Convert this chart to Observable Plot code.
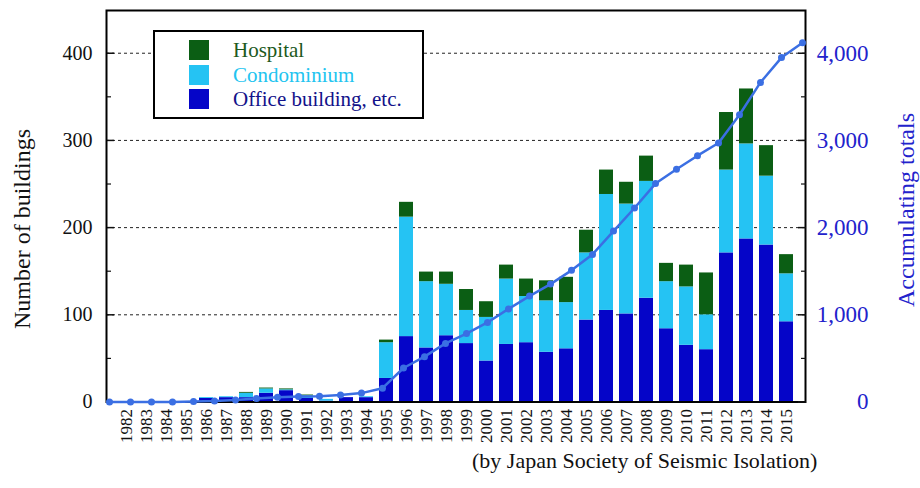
<!DOCTYPE html>
<html><head><meta charset="utf-8">
<script src="https://cdn.jsdelivr.net/npm/d3@7"></script>
<script src="https://cdn.jsdelivr.net/npm/@observablehq/plot@0.6"></script>
<style>
body{margin:0;background:#fff;}
#wrap{position:relative;width:920px;height:488px;overflow:hidden;font-family:"Liberation Serif","Times New Roman",serif;}
#wrap svg{position:absolute;left:0;top:0;}
.title{position:absolute;white-space:nowrap;transform:translate(-50%,-50%) rotate(-90deg);line-height:1;font-family:"Liberation Serif",serif;}
#legend{position:absolute;left:153px;top:30px;width:267px;height:85px;border:2px solid #000;background:#fff;}
.lg{position:absolute;left:34px;width:20px;height:20px;}
.lt{position:absolute;left:78px;font-size:21px;line-height:20px;white-space:nowrap;font-family:"Liberation Serif",serif;}
#caption{position:absolute;left:472px;top:450px;font-size:22px;line-height:1;white-space:nowrap;color:#111;font-family:"Liberation Serif",serif;}
</style></head><body><div id="wrap"></div>
<script>
const years = [1982,1983,1984,1985,1986,1987,1988,1989,1990,1991,1992,1993,1994,1995,1996,1997,1998,1999,2000,2001,2002,2003,2004,2005,2006,2007,2008,2009,2010,2011,2012,2013,2014,2015];
const office   = [0,0,0,0,4,5,5,10,13,4,1,5,5,27,75,62,76,67,47,66,68,57,61,94,105,101,119,84,65,60,171,187,180,92];
const condo    = [0,0,0,0,1,1,5,5,1,3,2,0,1,41,137,76,59,38,50,75,53,59,53,77,133,126,134,54,67,40,95,109,79,55];
const hospital = [0,0,0,0,0,0,1,1,1,1,0,0,0,3,17,11,14,24,18,16,20,23,29,26,28,25,29,21,25,48,66,63,35,22];
const accumulated = [0,0,0,0,6,12,24,40,55,63,66,80,102,158,390,520,672,785,912,1068,1215,1352,1510,1693,1960,2225,2505,2670,2825,2970,3295,3665,3950,4120];
const categories = ["Office building, etc.","Condominium","Hospital"];
const colors = ["#0505c8","#25c3f3","#0b5e14"];
const yTicks = [0,100,200,300,400];
const yMinor = [50,150,250,350];
const y2Ticks = [0,1000,2000,3000,4000];
const y2Minor = [500,1500,2500,3500];
const lineColor = "#3b6fe3";
const rightColor = "#2222cc";

const seriesVals = [office, condo, hospital];
const rows = categories.flatMap((c, k) => seriesVals[k].map((v, i) => ({year: years[i], category: c, value: v})));
const lineData = years.map((y, i) => ({year: y, total: accumulated[i]}));

const M = {marginLeft:106, marginRight:115, marginTop:10, marginBottom:86.5};

const p1 = Plot.plot({
  width:920, height:488, ...M,
  style:{fontFamily:"Liberation Serif", background:"transparent", color:"#111"},
  x:{type:"band", domain:years, paddingInner:0.32, paddingOuter:0.16, label:null},
  y:{domain:[0,449], label:null},
  color:{domain:categories, range:colors},
  marks:[
    Plot.gridY(yTicks.filter(d => d > 0), {stroke:"#222", strokeOpacity:1, strokeDasharray:"3,3", strokeWidth:1}),
    Plot.barY(rows, {x:"year", y:"value", fill:"category"}),
    Plot.axisX({tickSize:0, tickRotate:-90, textAnchor:"end", lineAnchor:"middle", tickPadding:7, fontSize:17, tickFormat:d => `${d}`, label:null}),
    Plot.axisY(yTicks, {tickSize:0, tickPadding:14, fontSize:20, label:null}),
    Plot.axisY(yTicks, {tickSize:-8, fill:"none", strokeWidth:1.5, label:null}),
    Plot.axisY(yMinor, {tickSize:-5, fill:"none", strokeWidth:1.2, label:null}),
    Plot.frame({strokeWidth:2, stroke:"#000"})
  ]
});
d3.select(p1).selectAll('g[aria-label="x-axis tick label"]').attr("font-size", 17).style("font-size", "17px");
d3.select(p1).selectAll('g[aria-label="y-axis tick label"]').attr("font-size", 20).style("font-size", "20px");

const p2 = Plot.plot({
  width:920, height:488, ...M,
  style:{fontFamily:"Liberation Serif", background:"transparent", color:"#111"},
  x:{type:"point", domain:years, padding:0, axis:null, label:null},
  y:{domain:[0,4490], label:null},
  marks:[
    Plot.line(lineData, {x:"year", y:"total", stroke:lineColor, strokeWidth:2.5}),
    Plot.dot(lineData, {x:"year", y:"total", r:3.5, fill:lineColor}),
    Plot.axisY(y2Ticks, {anchor:"right", tickSize:-8, fill:"none", strokeWidth:1.5, label:null}),
    Plot.axisY(y2Minor, {anchor:"right", tickSize:-5, fill:"none", strokeWidth:1.2, label:null}),
    Plot.axisY(y2Ticks, {anchor:"right", tickSize:0, tickPadding:63, textAnchor:"end", fill:rightColor, fontSize:23, tickFormat:d3.format(","), label:null})
  ]
});
d3.select(p2).selectAll('g[aria-label="y-axis tick label"]').attr("font-size", 23).style("font-size", "23px");

const wrap = document.getElementById("wrap");
wrap.appendChild(p1);
wrap.appendChild(p2);

function addDiv(text, css){ const d=document.createElement("div"); d.textContent=text; Object.assign(d.style, css); wrap.appendChild(d); return d; }
addDiv("Number of buildings",{left:"22px",top:"229px",fontSize:"24px",color:"#111"}).className="title";
addDiv("Accumulating totals",{left:"906px",top:"210px",fontSize:"24px",color:rightColor}).className="title";
addDiv("(by Japan Society of Seismic Isolation)",{}).id="caption";

const legend = document.createElement("div"); legend.id="legend"; wrap.appendChild(legend);
const legendItems = [["Hospital", colors[2], "#1d5a1d"], ["Condominium", colors[1], "#22c4f0"], ["Office building, etc.", colors[0], "#12128a"]];
legendItems.forEach(([t, c, tc], i) => {
  const s=document.createElement("div"); s.className="lg"; s.style.top=(8+i*24.5)+"px"; s.style.background=c; legend.appendChild(s);
  const l=document.createElement("div"); l.className="lt"; l.style.top=(8+i*24.5)+"px"; l.style.color=tc; l.textContent=t; legend.appendChild(l);
});
</script></body></html>
